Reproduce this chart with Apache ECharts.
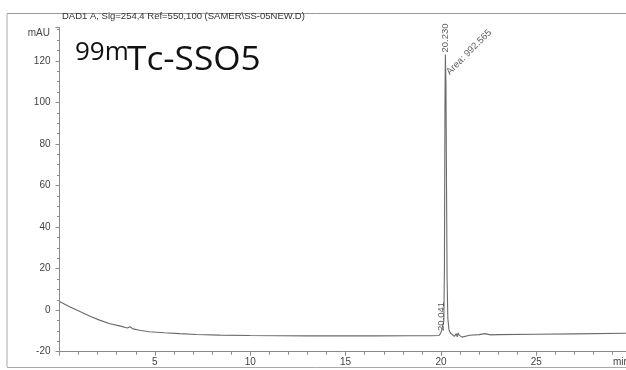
<!DOCTYPE html>
<html>
<head>
<meta charset="utf-8">
<script src="https://cdn.jsdelivr.net/npm/echarts@6/dist/echarts.min.js"></script>
<style>
html,body{margin:0;padding:0;background:#fff;}
#c{width:626px;height:370px;}
</style>
</head>
<body>
<div id="c"></div>
<script>
// Retention time (min) and signal (mAU)
var times = [0.0, 0.5, 1.1, 1.6, 2.1, 2.6, 3.2, 3.55, 3.7, 3.85, 4.2, 4.7, 5.5, 6.3, 7.2, 8.4, 10.0, 11.5, 13.0, 14.6, 16.5, 18.5, 19.5, 19.9, 19.98, 20.04, 20.1, 20.15, 20.18, 20.21, 20.23, 20.26, 20.29, 20.32, 20.36, 20.42, 20.5, 20.6, 20.7, 20.8, 20.85, 20.9, 20.95, 21.05, 21.1, 21.2, 21.5, 22.0, 22.3, 22.6, 23.0, 25.0, 27.0, 29.7];
var signal = [4.2, 1.8, -0.8, -2.9, -4.8, -6.4, -7.7, -8.6, -8.0, -9.0, -9.7, -10.4, -10.9, -11.3, -11.7, -12.0, -12.2, -12.3, -12.4, -12.4, -12.4, -12.3, -12.3, -12.2, -11.2, -9.6, -9.4, -5.0, 20.0, 100.0, 123.0, 110.0, 60.0, 15.0, -4.0, -9.5, -11.0, -11.8, -12.6, -11.3, -12.8, -11.0, -12.0, -11.6, -13.0, -12.2, -12.1, -11.8, -11.3, -11.9, -11.8, -11.6, -11.4, -11.1];

// Peak annotations: time, signal anchor, text, rotation
var annTimes = [20.23, 20.041, 20.36];
var annValues = [124.0, -10.0, 114.0];
var annTexts = ['20.230', '20.041', 'Area: 992.565'];
var annRotate = [90, 90, 45];

var xTicks = [5, 10, 15, 20, 25];
var yTicks = [-20, 0, 20, 40, 60, 80, 100, 120];

var lineData = times.map(function (t, i) { return [t, signal[i]]; });
var annData = annTimes.map(function (t, i) {
  return {
    value: [t, annValues[i]],
    label: {
      show: true,
      formatter: annTexts[i],
      rotate: annRotate[i],
      position: 'inside',
      align: 'left',
      verticalAlign: 'middle'
    }
  };
});

var axisGrey = '#8a8a8a';
var textGrey = '#444';

var chart = echarts.init(document.getElementById('c'), null, {renderer: 'canvas'});
chart.setOption({
  backgroundColor: '#ffffff',
  animation: false,
  grid: {left: 59.5, right: 0, top: 27.6, bottom: 18.3, containLabel: false},
  xAxis: {
    type: 'value',
    min: 0,
    max: 29.7,
    interval: 5,
    axisLine: {show: true, onZero: false, lineStyle: {color: axisGrey, width: 1}},
    axisTick: {show: true, inside: false, length: 4, lineStyle: {color: axisGrey}},
    minorTick: {show: true, splitNumber: 5, length: 3, lineStyle: {color: axisGrey}},
    splitLine: {show: false},
    axisLabel: {
      color: textGrey, fontSize: 10, fontFamily: 'Liberation Sans, Arial', margin: 6,
      showMaxLabel: false,
      formatter: function (v) { return xTicks.indexOf(v) >= 0 ? String(v) : ''; }
    }
  },
  yAxis: {
    type: 'value',
    min: -20,
    max: 136,
    interval: 20,
    axisLine: {show: true, onZero: false, lineStyle: {color: axisGrey, width: 1}},
    axisTick: {show: true, inside: false, length: 4, lineStyle: {color: axisGrey}},
    minorTick: {show: true, splitNumber: 4, length: 2.5, lineStyle: {color: axisGrey}},
    splitLine: {show: false},
    axisLabel: {
      color: textGrey, fontSize: 10, fontFamily: 'Liberation Sans, Arial', margin: 9,
      showMaxLabel: false,
      formatter: function (v) { return yTicks.indexOf(v) >= 0 ? String(v) : ''; }
    }
  },
  series: [
    {
      type: 'line',
      data: lineData,
      showSymbol: false,
      symbol: 'none',
      lineStyle: {color: '#6a6a6a', width: 1.1},
      z: 3
    },
    {
      type: 'scatter',
      data: annData,
      symbolSize: 1,
      itemStyle: {color: 'rgba(0,0,0,0)'},
      label: {show: true, color: '#333', fontSize: 9.5, fontFamily: 'Liberation Sans, Arial'},
      labelLayout: {hideOverlap: false},
      emphasis: {disabled: true},
      z: 4,
      silent: true
    }
  ],
  graphic: [
    {type: 'line', shape: {x1: 7, y1: 13.5, x2: 626, y2: 13.5}, style: {stroke: '#999', lineWidth: 1}},
    {type: 'line', shape: {x1: 7, y1: 13.5, x2: 7, y2: 367}, style: {stroke: '#aaa', lineWidth: 1}},
    {type: 'line', shape: {x1: 7, y1: 367.5, x2: 626, y2: 367.5}, style: {stroke: '#aaa', lineWidth: 1}},
    {type: 'text', left: 62, top: 11, style: {text: 'DAD1 A, Sig=254,4 Ref=550,100 (SAMER\\SS-05NEW.D)', fill: '#333', font: '9.5px "Liberation Sans", Arial'}},
    {type: 'text', right: 576, top: 28, style: {text: 'mAU', fill: textGrey, font: '10px "Liberation Sans", Arial', textAlign: 'right'}},
    {type: 'text', left: 613, top: 357, style: {text: 'min', fill: textGrey, font: '10px "Liberation Sans", Arial'}},
    {type: 'text', x: 75, y: 40, style: {text: '99m', fill: '#111', font: '26px "Open Sans", "Noto Sans", sans-serif'}},
    {type: 'text', x: 127, y: 45, scaleX: 1.1, style: {text: 'Tc-SSO5', fill: '#111', font: '32px "Open Sans", "Noto Sans", sans-serif'}}
  ]
});
</script>
</body>
</html>
